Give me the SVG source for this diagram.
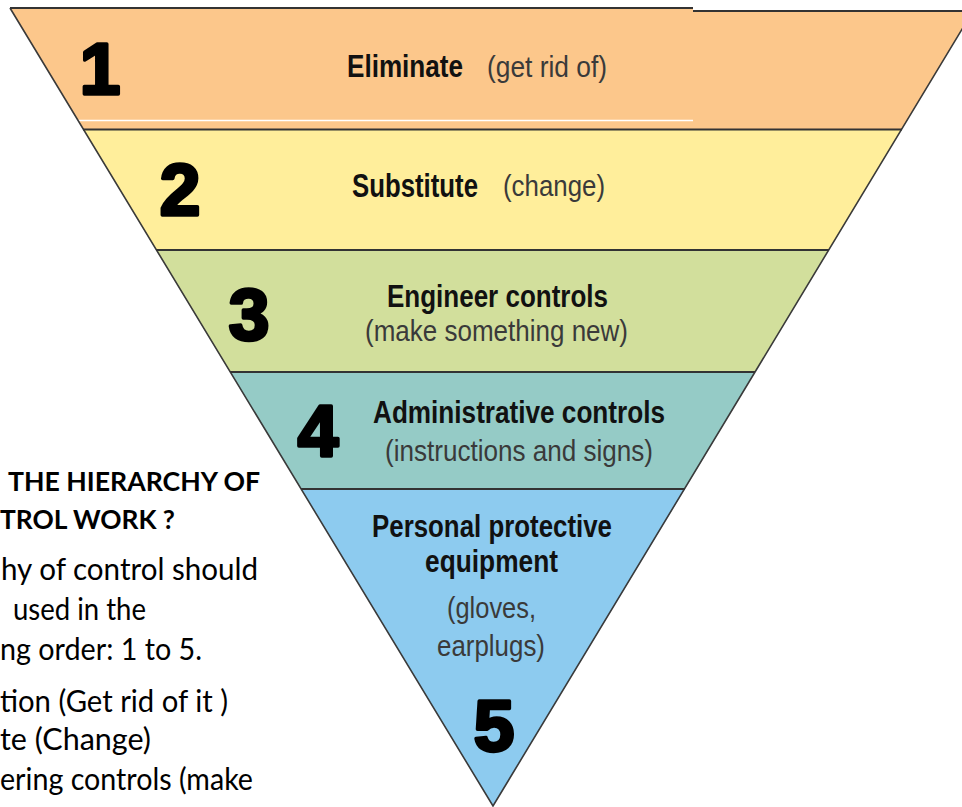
<svg xmlns="http://www.w3.org/2000/svg" width="962" height="807" viewBox="0 0 962 807">
<style>
.num{font-family:"Liberation Sans",Arial,sans-serif;font-weight:bold;font-size:73px;fill:#000;stroke:#000;stroke-width:3.5;stroke-linejoin:round;text-anchor:middle}
.hd{font-family:"Liberation Sans",Arial,sans-serif;font-weight:bold;font-size:31px;fill:#111}
.sub{font-family:"Liberation Sans",Arial,sans-serif;font-size:30px;fill:#3a3a3a}
.side{font-family:Lato,"Open Sans",sans-serif;font-size:30px;fill:#000}
.sideb{font-family:Lato,"Open Sans",sans-serif;font-size:27px;font-weight:bold;fill:#000}
.edge{fill:none;stroke:#3a3a3a;stroke-width:1.6}
.sep{stroke:#333;stroke-width:2.2}
</style>
<rect width="962" height="807" fill="#fff"/>

<g id="side-text">
<text class="sideb" x="8" y="491" textLength="252" lengthAdjust="spacingAndGlyphs">THE HIERARCHY OF</text>
<text class="sideb" x="0" y="529" textLength="175" lengthAdjust="spacingAndGlyphs">TROL WORK ?</text>
<text class="side" x="1" y="580" textLength="257" lengthAdjust="spacingAndGlyphs">hy of control should</text>
<text class="side" x="13" y="620" textLength="133" lengthAdjust="spacingAndGlyphs">used in the</text>
<text class="side" x="0" y="660" textLength="202" lengthAdjust="spacingAndGlyphs">ng order: 1 to 5.</text>
<text class="side" x="0" y="712" textLength="228" lengthAdjust="spacingAndGlyphs">tion (Get rid of it )</text>
<text class="side" x="0" y="750" textLength="151" lengthAdjust="spacingAndGlyphs">te (Change)</text>
<text class="side" x="0" y="790" textLength="253" lengthAdjust="spacingAndGlyphs">ering controls (make</text>
</g>

<g id="level-1">
<polygon points="10,8 693,8 693,11 973,11 902,129 83,129" fill="#FCC78B"/>
<line x1="75" y1="120.5" x2="693" y2="120.5" stroke="#fff" stroke-width="1.5"/>
<text class="num" x="100" y="94">1</text>
<text class="hd" x="347" y="77" textLength="116" lengthAdjust="spacingAndGlyphs">Eliminate</text>
<text class="sub" x="487" y="77" textLength="120" lengthAdjust="spacingAndGlyphs">(get rid of)</text>
</g>

<g id="level-2">
<polygon points="83,129 902,129 829,250 156,250" fill="#FFEE9B"/>
<text class="num" x="180" y="215">2</text>
<text class="hd" x="352" y="197" textLength="126" lengthAdjust="spacingAndGlyphs" style="font-size:33px">Substitute</text>
<text class="sub" x="503" y="196" textLength="102" lengthAdjust="spacingAndGlyphs">(change)</text>
</g>

<g id="level-3">
<polygon points="156,250 829,250 755,372 230,372" fill="#D2DF9C"/>
<text class="num" x="249" y="340">3</text>
<text class="hd" x="387" y="307" textLength="221" lengthAdjust="spacingAndGlyphs">Engineer controls</text>
<text class="sub" x="365" y="341" textLength="263" lengthAdjust="spacingAndGlyphs">(make something new)</text>
</g>

<g id="level-4">
<polygon points="230,372 755,372 685,489 301,489" fill="#95CBC6"/>
<text class="num" x="318" y="456">4</text>
<text class="hd" x="373" y="423" textLength="292" lengthAdjust="spacingAndGlyphs">Administrative controls</text>
<text class="sub" x="385" y="461" textLength="268" lengthAdjust="spacingAndGlyphs">(instructions and signs)</text>
</g>

<g id="level-5">
<polygon points="301,489 685,489 493,806" fill="#8DCBEF"/>
<text class="hd" x="372" y="537" textLength="240" lengthAdjust="spacingAndGlyphs">Personal protective</text>
<text class="hd" x="425" y="572" textLength="133" lengthAdjust="spacingAndGlyphs">equipment</text>
<text class="sub" x="447" y="618" textLength="89" lengthAdjust="spacingAndGlyphs">(gloves,</text>
<text class="sub" x="437" y="656" textLength="108" lengthAdjust="spacingAndGlyphs">earplugs)</text>
<text class="num" x="494" y="751">5</text>
</g>

<g id="connectors">
<polyline class="edge" points="10,8 493,806 973,11"/>
<line class="sep" x1="10" y1="8" x2="693" y2="8"/>
<line class="sep" x1="693" y1="11" x2="962" y2="11"/>
<line class="sep" x1="83" y1="129.5" x2="902" y2="129.5"/>
<line class="sep" x1="156" y1="250" x2="829" y2="250"/>
<line class="sep" x1="230" y1="372" x2="755" y2="372"/>
<line class="sep" x1="301" y1="489" x2="685" y2="489"/>
</g>
</svg>
